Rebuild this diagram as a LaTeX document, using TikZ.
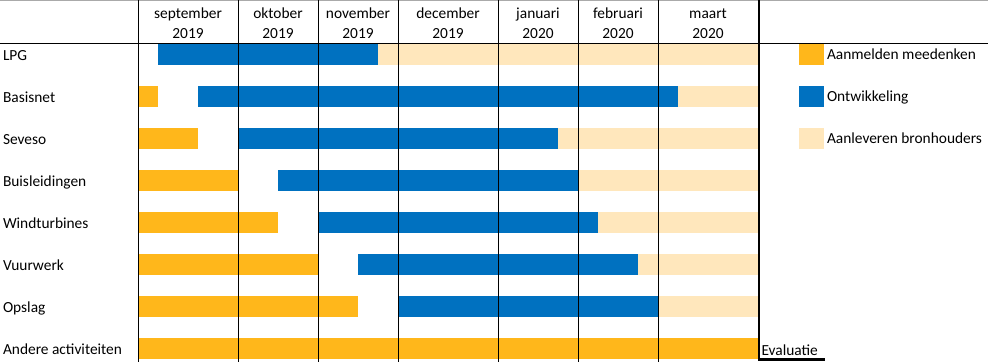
\documentclass[tikz,border=0pt]{standalone}
\usepackage{fontspec}
\setmainfont{Carlito}
\usepackage{tikz}
\usetikzlibrary{positioning}
\tikzset{>=latex}
\definecolor{myorange}{RGB}{255, 183, 27}
\definecolor{myblue}{RGB}{0, 113, 192}
\definecolor{mylight}{RGB}{255, 231, 188}
\definecolor{mygray5}{RGB}{170, 170, 170}

\begin{document}
\begin{tikzpicture}[x = 1pt, y = -1pt, font = \fontsize{15.4}{18}\selectfont,
  txt/.style = {anchor = base west, inner sep = 0, outer sep = 0},
  month/.style = {anchor = base, inner sep = 0, outer sep = 0},
  gridline/.style = {line width = 1, black}]
\useasboundingbox (0, 0) rectangle (988, 362);
\fill[white] (0, 0) rectangle (988, 362);
% bars per row: name / end orange / begin blue / end blue
\foreach \name/\oe/\bs/\be [count = \i from 0] in {LPG/138/158/378, Basisnet/158/198/678, Seveso/198/238/558, Buisleidingen/238/278/578, Windturbines/278/318/598, Vuurwerk/318/358/638, Opslag/358/398/658}
{
  \pgfmathsetmacro{\t}{44 + 42*\i}
  \fill[myorange] (138, \t) rectangle (\oe, \t + 21);
  \fill[myblue] (\bs, \t) rectangle (\be, \t + 21);
  \fill[mylight] (\be, \t) rectangle (758, \t + 21);
  \node[txt] (row\i) at (3, \t + 16) {\name};
}
\fill[myorange] (138, 338) rectangle (758, 359);
\node[txt] (row7) at (3, 354) {Andere activiteiten};
% header
\foreach \m/\yr/\a/\b [count = \k] in {september/2019/138/238, oktober/2019/238/318, november/2019/318/398, december/2019/398/498, januari/2020/498/578, februari/2020/578/658, maart/2020/658/758}
{
  \node[month] (m\k) at ({(\a + \b)/2}, 18.5) {\m};
  \node[month] (y\k) at ({(\a + \b)/2}, 38.5) {\yr};
}
% grid
\draw[line width = 1, mygray5] (0, 0.5) -- (988, 0.5);
\draw[gridline] (0, 43.3) -- (988, 43.3);
\foreach \x in {138, 238, 318, 398, 498, 578, 658}
  \draw[gridline] (\x, 0) -- (\x, 362);
\draw[line width = 2.6] (759, 0) -- (759, 359.5) -- (825, 359.5);
\node[txt] (eval) at (761.5, 355) {Evaluatie};
% legend
\foreach \c/\lab [count = \j from 0] in {myorange/Aanmelden meedenken, myblue/Ontwikkeling, mylight/Aanleveren bronhouders}
{
  \fill[\c] (799, 44 + 42*\j) rectangle (824, 65 + 42*\j);
  \node[txt] (leg\j) at (827, 59.5 + 42*\j) {\lab};
}
\end{tikzpicture}
\end{document}
